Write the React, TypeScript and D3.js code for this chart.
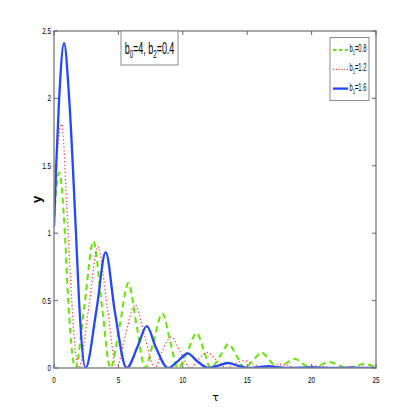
import React from 'react';
import * as d3 from 'd3';

// axis ticks
const tauTicks = [0, 5, 10, 15, 20, 25];
const tauTickLabels = ['0', '5', '10', '15', '20', '25'];
const yTicks = [0, 0.5, 1, 1.5, 2, 2.5];
const yTickLabels = ['0', '0.5', '1', '1.5', '2', '2.5'];

// b1 = 0.8 (green dashed)
const tauG = [0, 0.15, 0.41, 0.85, 1.11, 1.4, 1.65,
  2.37, 3.05, 3.73, 4.38,
  5.1, 5.77, 6.44, 7.07,
  7.73, 8.41, 9.03, 9.6,
  10.4, 11.07, 11.65, 12.15,
  12.9, 13.55, 14.2, 14.8,
  15.47, 16.12, 16.75, 17.35,
  18.02, 18.68, 19.3, 19.95,
  20.72, 21.4, 22.05, 22.7,
  23.42, 24.1, 24.75, 25];
const yG = [1.05, 1.3, 1.45, 0.99, 0.49, 0.12, 0,
  0.47, 0.94, 0.45, 0,
  0.315, 0.63, 0.3, 0,
  0.2, 0.405, 0.195, 0,
  0.13, 0.26, 0.125, 0,
  0.09, 0.177, 0.085, 0,
  0.058, 0.114, 0.055, 0,
  0.035, 0.068, 0.033, 0,
  0.023, 0.045, 0.022, 0,
  0.015, 0.03, 0.015, 0.005];

// b1 = 1.2 (red dotted)
const tauR = [0, 0.2, 0.6, 0.98, 1.24, 1.55, 1.92,
  2.7, 3.4, 4.15, 4.86,
  5.52, 6.29, 7.05, 7.84,
  8.35, 9.1, 9.85, 10.6,
  11.15, 11.9, 12.65, 13.4,
  13.97, 14.72, 15.47, 16.2,
  17.57, 19.05, 20.42, 21.9, 23.27, 24.75, 25];
const yR = [1.05, 1.53, 1.81, 1.23, 0.74, 0.245, 0,
  0.45, 0.9, 0.44, 0,
  0.235, 0.47, 0.23, 0,
  0.115, 0.23, 0.11, 0,
  0.058, 0.115, 0.055, 0,
  0.028, 0.055, 0.027, 0,
  0.028, 0, 0.014, 0, 0.007, 0, 0.002];

// b1 = 1.6 (blue solid)
const tauB = [0, 0.16, 0.39, 0.78, 1.19, 1.71, 1.95, 2.45,
  3.31, 4.01, 4.72, 5.64,
  6.48, 7.2, 7.92, 8.85,
  9.66, 10.38, 11.1, 12.0,
  12.81, 13.53, 14.25, 15.15,
  15.93, 16.65, 17.37, 18.3,
  19.85, 21.45, 23.0, 24.6, 25];
const yB = [1.05, 1.48, 1.98, 2.41, 1.98, 0.99, 0.49, 0,
  0.44, 0.86, 0.42, 0,
  0.155, 0.31, 0.15, 0,
  0.055, 0.109, 0.052, 0,
  0.019, 0.037, 0.018, 0,
  0.0065, 0.013, 0.006, 0,
  0.005, 0, 0.002, 0, 0.0005];

const b1Labels = ['0.8', '1.2', '1.6'];

const W = 415, H = 415;
const left = 54, right = 376, top = 31, bottom = 368;
const axisGray = '#8a8a8a';
const narrow = 'Liberation Sans, Arial, sans-serif';

const styles = [
  { color: '#66e600', width: 2, dash: '6 4' },
  { color: '#ff3d3d', width: 1.3, dash: '1.2 2.4' },
  { color: '#2446ff', width: 2.3, dash: null as string | null },
];

export default function App() {
  const x = d3.scaleLinear().domain([0, 25]).range([left, right]);
  const y = d3.scaleLinear().domain([0, 2.5]).range([bottom, top]);

  const line = d3.line<[number, number]>()
    .x(d => x(d[0]))
    .y(d => y(d[1]))
    .curve(d3.curveMonotoneX);

  const series = [
    d3.zip(tauG, yG) as [number, number][],
    d3.zip(tauR, yR) as [number, number][],
    d3.zip(tauB, yB) as [number, number][],
  ];

  return (
    <svg width={W} height={H} style={{ position: 'absolute', left: 0, top: 0, background: '#fff' }}>
      <defs>
        <clipPath id="plotClip">
          <rect x={left} y={top} width={right - left} height={bottom - top} />
        </clipPath>
      </defs>

      {/* curves */}
      <g clipPath="url(#plotClip)">
        {series.map((s, i) => (
          <path key={i} d={line(s) || ''} fill="none"
            stroke={styles[i].color} strokeWidth={styles[i].width}
            strokeDasharray={styles[i].dash || undefined} strokeLinejoin="round" />
        ))}
      </g>

      {/* frame */}
      <rect x={left} y={top} width={right - left} height={bottom - top}
        fill="none" stroke={axisGray} strokeWidth={1.5} />

      {/* ticks */}
      {tauTicks.map((t, i) => (
        <g key={'xt' + i}>
          <line x1={x(t)} x2={x(t)} y1={bottom} y2={bottom - 4} stroke="#666" />
          <line x1={x(t)} x2={x(t)} y1={top} y2={top + 4} stroke="#666" />
          <text transform={`translate(${x(t)},${bottom + 15}) scale(0.75,1)`}
            textAnchor="middle" fontFamily={narrow} fontSize={8.5} fill="#000">
            {tauTickLabels[i]}
          </text>
        </g>
      ))}
      {yTicks.map((v, i) => (
        <g key={'yt' + i}>
          <line x1={left} x2={left + 4} y1={y(v)} y2={y(v)} stroke="#666" />
          <line x1={right} x2={right - 4} y1={y(v)} y2={y(v)} stroke="#666" />
          <text transform={`translate(${left - 3},${y(v) + 3}) scale(0.75,1)`}
            textAnchor="end" fontFamily={narrow} fontSize={8.5} fill="#000">
            {yTickLabels[i]}
          </text>
        </g>
      ))}

      {/* axis labels */}
      <text transform={`translate(41,${(top + bottom) / 2}) rotate(-90)`}
        textAnchor="middle" fontFamily={narrow} fontWeight="bold" fontSize={13}>y</text>
      <text x={(left + right) / 2 + 0.5} y={401} textAnchor="middle"
        fontFamily="DejaVu Sans, sans-serif" fontSize={11}>τ</text>

      {/* parameter box */}
      <rect x={121} y={top} width={57} height={34} fill="#fff" stroke={axisGray} strokeWidth={1} />
      <text transform={`translate(149.5,54) scale(0.56,1)`} textAnchor="middle"
        fontFamily={narrow} fontSize={16} fill="#000">
        <tspan>b</tspan>
        <tspan dy={4} fontSize={11}>0</tspan>
        <tspan dy={-4}>=4, b</tspan>
        <tspan dy={4} fontSize={11}>2</tspan>
        <tspan dy={-4}>=0.4</tspan>
      </text>

      {/* legend */}
      <rect x={330} y={37.5} width={39} height={63} fill="#fff" stroke={axisGray} strokeWidth={1} />
      {b1Labels.map((lab, i) => {
        const ly = 50 + i * 19.3;
        return (
          <g key={'lg' + i}>
            <line x1={333} x2={348} y1={ly} y2={ly}
              stroke={styles[i].color} strokeWidth={styles[i].width}
              strokeDasharray={styles[i].dash ? (i === 0 ? '3.5 2.5' : '1.2 1.6') : undefined} />
            <text transform={`translate(349.5,${ly + 2}) scale(0.58,1)`}
              fontFamily={narrow} fontSize={10} fill="#000">
              <tspan>b</tspan>
              <tspan dy={3} fontSize={7}>1</tspan>
              <tspan dy={-3}>={lab}</tspan>
            </text>
          </g>
        );
      })}
    </svg>
  );
}
